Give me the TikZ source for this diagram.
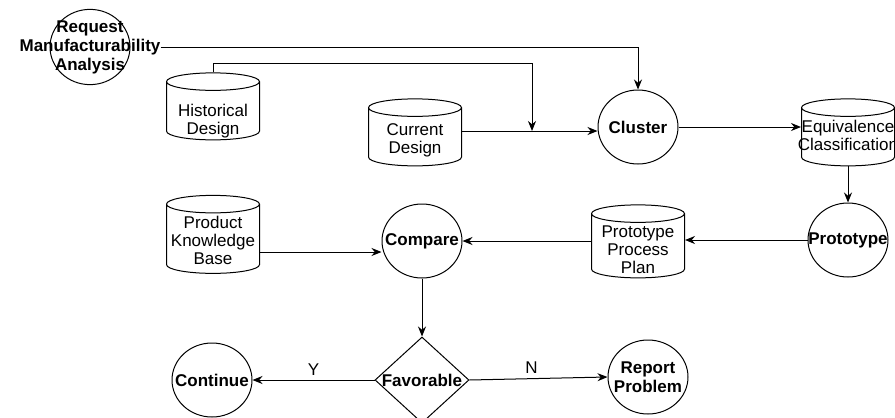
\documentclass[tikz,border=0pt]{standalone}
\usepackage{fontspec}
\setmainfont{Liberation Sans}
\usetikzlibrary{arrows.meta,positioning,calc,shapes.geometric}

\begin{document}
\begin{tikzpicture}[x=1pt,y=-1pt,
  font=\fontsize{17}{18}\selectfont,
  proc/.style={draw,ellipse,line width=1pt,inner sep=0pt,minimum width=80pt,minimum height=74pt,align=center,font=\fontsize{17}{19}\selectfont\bfseries},
  db/.style={draw,cylinder,shape border rotate=90,aspect=0.35,line width=1pt,inner sep=0pt,minimum width=93pt,minimum height=67pt},
  dec/.style={draw,diamond,line width=1pt,inner sep=0pt,minimum width=94pt,minimum height=86pt,font=\fontsize{17}{19}\selectfont\bfseries},
  arr/.style={-{Stealth[length=10pt,width=8pt]},line width=1pt}]
\useasboundingbox (0,0) rectangle (895,418);
\newcommand{\zw}[1]{\makebox[0pt]{#1}}
\newcommand{\dbl}[2]{\makebox[50pt]{\raisebox{#1}[0pt][0pt]{\begin{tabular}{@{}c@{}}#2\end{tabular}}}}
% top row
\node[proc] (ndReq) at (90,47) {\zw{Request}\\\zw{Manufacturability}\\\zw{Analysis}};
\node[db] (dbHist) at (213,111) {\dbl{-15pt}{Historical\\Design}};
\node[db] (dbCur) at (415,137) {\dbl{-8pt}{Current\\Design}};
\node[proc] (ndClu) at (638,127) {\zw{Cluster}};
\node[db] (dbEqv) at (848,137) {\dbl{-5pt}{Equivalence\\Classification}};
% middle row
\node[db,minimum height=78pt] (dbKnow) at (213,239) {\dbl{-8pt}{Product\\Knowledge\\Base}};
\node[proc] (ndCmp) at (422,241) {\zw{Compare}};
\node[db,minimum height=73pt] (dbPlan) at (638,246) {\dbl{-10pt}{Prototype\\Process\\Plan}};
\node[proc] (ndProto) at (848,240) {\zw{Prototype}};
% bottom row
\node[dec] (ndFav) at (422,380) {\zw{Favorable}};
\node[proc] (ndCont) at (212,380) {\zw{Continue}};
\node[proc] (ndRep) at (648,377) {\zw{Report}\\\zw{Problem}};
\coordinate (jn) at (532,131);
\draw[arr] ([xshift=30pt]ndReq.east) -| (ndClu.north);
\draw[arr] (dbHist.north) -- ++(0,-9) -| (jn);
\draw[arr] (dbCur.east |- jn) -- (jn -| ndClu.west);
\draw[arr] (ndClu.east) -- (ndClu.east -| dbEqv.west);
\draw[arr] (dbEqv.south) -- (ndProto.north);
\draw[arr] (ndProto.west) -- (ndProto.west -| dbPlan.east);
\draw[arr] (dbPlan.west |- ndCmp.east) -- (ndCmp.east);
\draw[arr] ([yshift=-13pt]dbKnow.east) -- ([yshift=-13pt]dbKnow.east -| ndCmp.west);
\draw[arr] (ndCmp.south) -- (ndFav.north);
\draw[arr] (ndFav.west) -- node[above=1pt]{Y} (ndCont.east);
\draw[arr] (ndFav.east) -- node[above=1pt,pos=0.45]{N} (ndRep.west);
\end{tikzpicture}
\end{document}
